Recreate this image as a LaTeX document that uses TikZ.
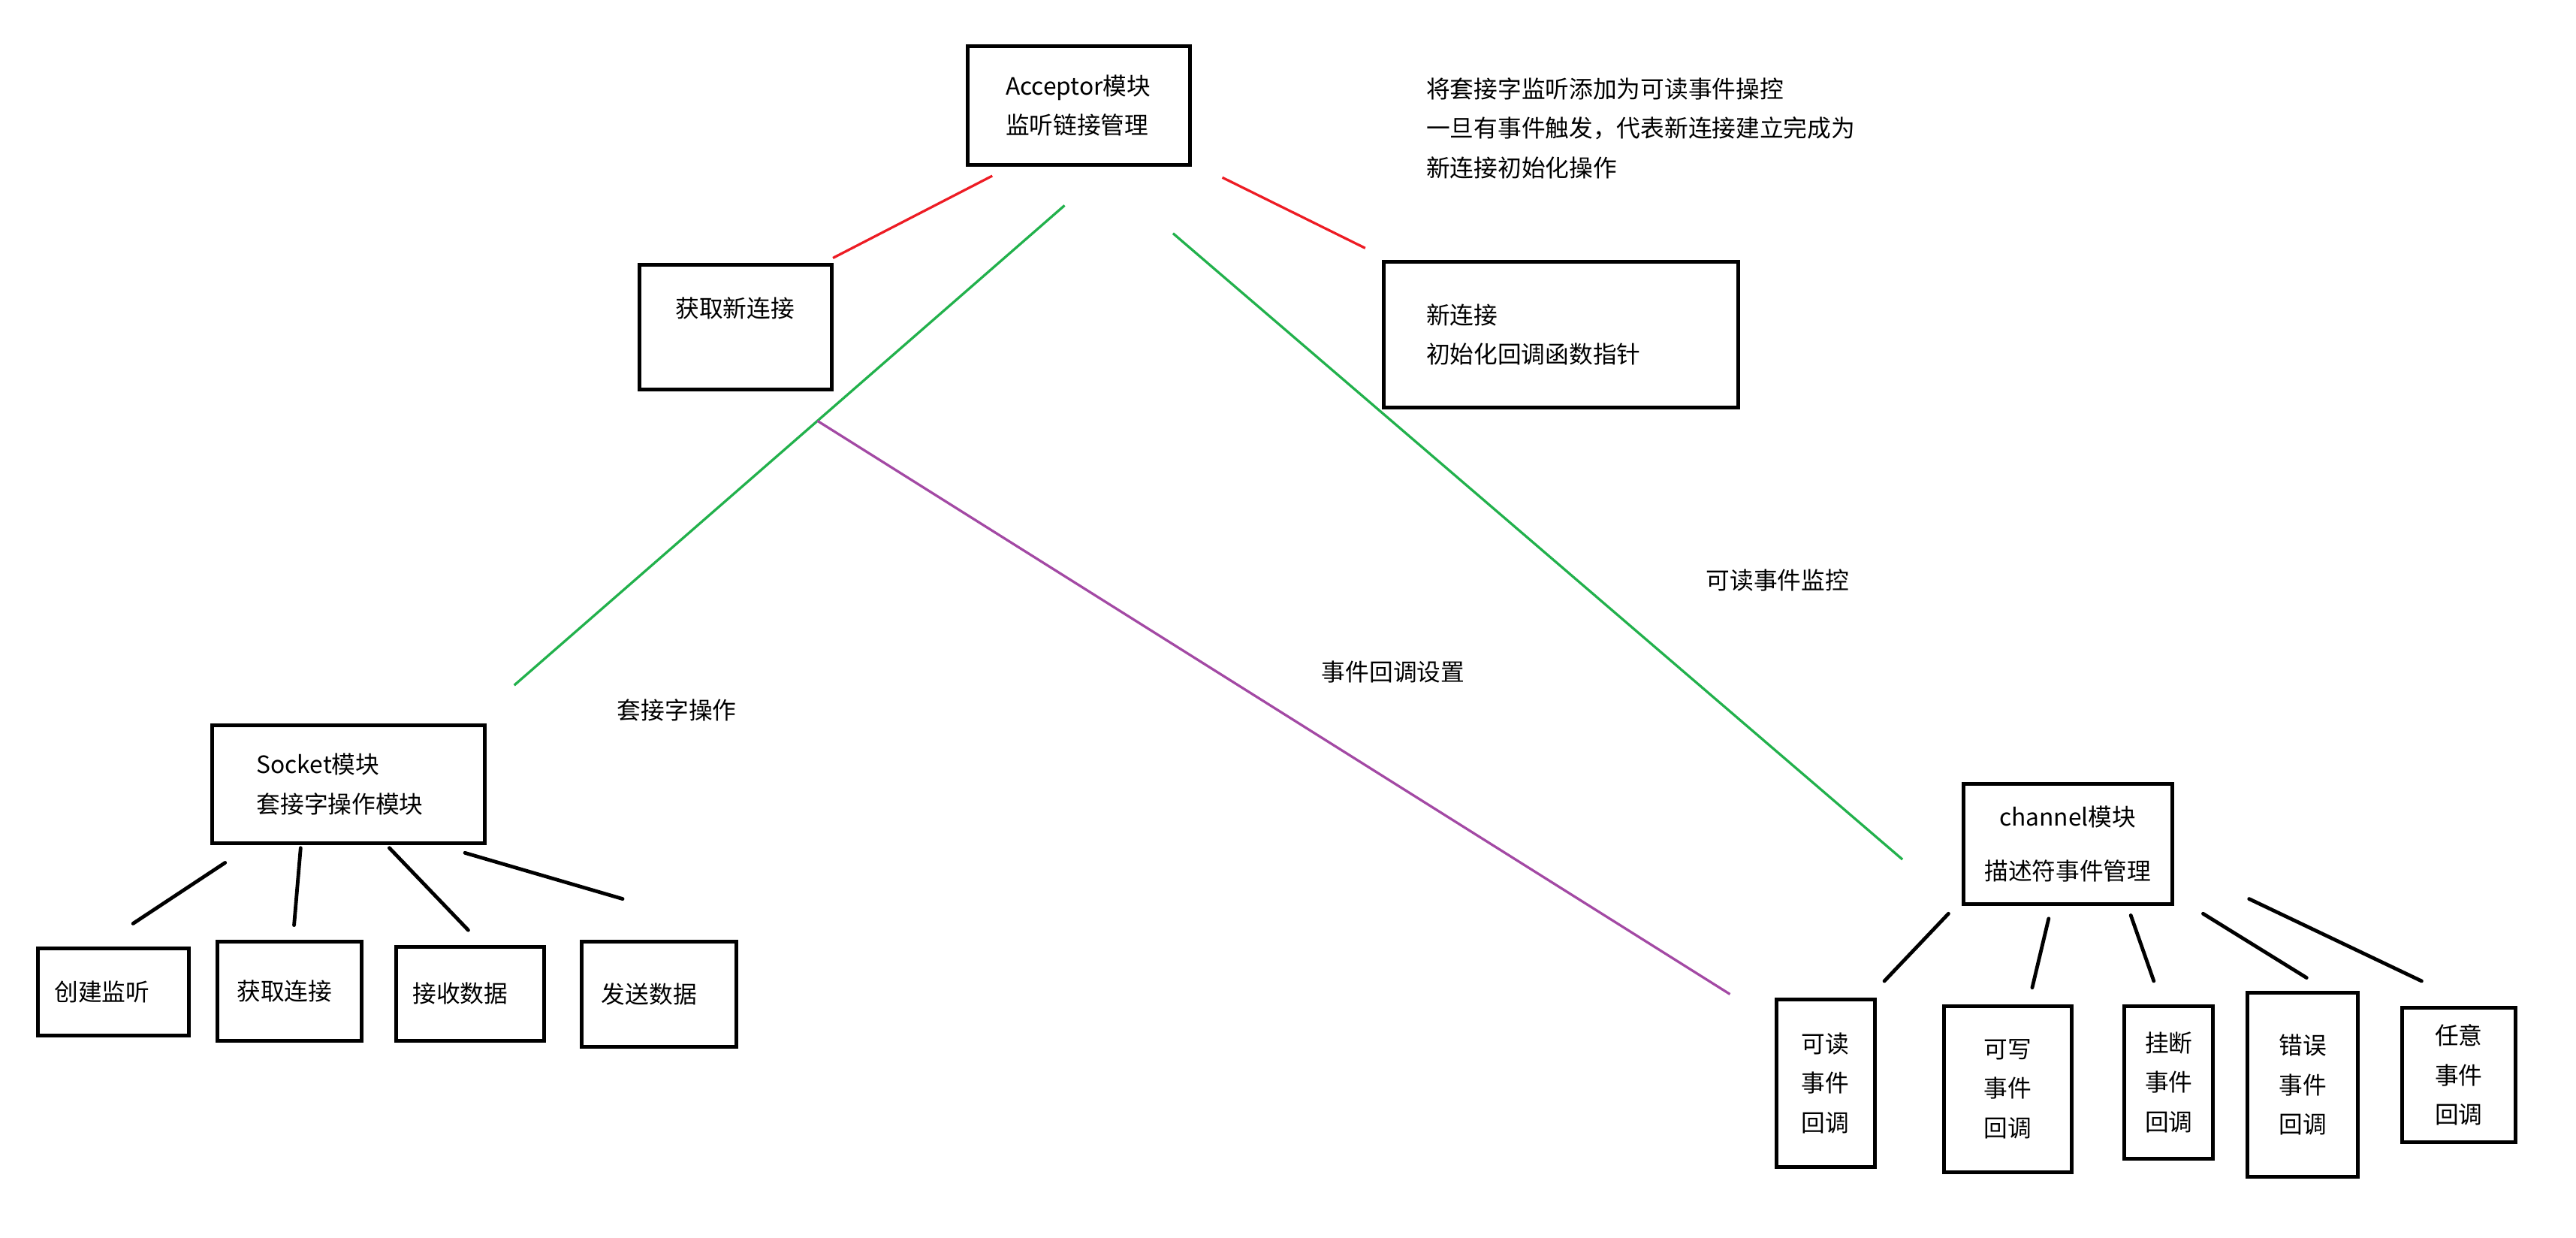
\documentclass[tikz,border=0pt]{standalone}
\usepackage{fontspec}
\setmainfont{Noto Sans CJK SC}
\definecolor{paintred}{HTML}{ED1C24}
\definecolor{paintgreen}{HTML}{22B14C}
\definecolor{paintpurple}{HTML}{A349A4}
\usetikzlibrary{calc}

\tikzset{
  txt/.style={font=\fontsize{14.5}{24}\selectfont},
  modbox/.style={txt, draw, line width=2.3pt, anchor=north west, align=left},
  leafbox/.style={txt, draw, line width=2.3pt, anchor=north west, align=center, inner sep=0pt},
  leg/.style={line width=2.2pt, line cap=round},
  link/.style={line width=1.5pt}
}

\begin{document}
\begin{tikzpicture}[x=1pt,y=-1pt]
  \useasboundingbox (0,0) rectangle (1568,753);

  % Acceptor and its two helpers
  \node[modbox, text width=89, inner xsep=23, minimum height=72] (acc) at (588,27)
    {Acceptor模块\\监听链接管理};
  \node[modbox, text width=73, inner xsep=22, minimum height=76, text depth=24] (getconn) at (388,160)
    {获取新连接};
  \node[modbox, text width=164, inner xsep=26, minimum height=89] (newconn) at (841,158)
    {新连接\\初始化回调函数指针};
  \node[txt, anchor=north west, align=left, inner sep=0pt] (note) at (868,47)
    {将套接字监听添加为可读事件操控\\一旦有事件触发，代表新连接建立完成为\\新连接初始化操作};

  % Socket side
  \node[modbox, text width=112, inner xsep=27, minimum height=72] (sock) at (128,440)
    {Socket模块\\套接字操作模块};
  \node[txt] (socklbl) at (412,432) {套接字操作};
  \foreach \n/\t/\x/\y/\w/\h/\d in {cjjt/创建监听/22/576/92/53/10, hqlj/获取连接/131/572/88/60/12,
                                    jssj/接收数据/240/575/90/57/10, fssj/发送数据/353/572/94/64/12}
    \node[leafbox, align=left, inner xsep=\d, text width=\w-2*\d, minimum height=\h] (\n) at (\x,\y) {\t};

  % Channel side
  \node[modbox, align=center, minimum width=127, minimum height=73, inner sep=0pt] (chan) at (1194,476)
    {channel模块\\[9pt]描述符事件管理};
  \node[txt] (evlbl) at (848,409) {事件回调设置};
  \node[txt] (rdlbl) at (1082,353) {可读事件监控};
  \foreach \n/\t/\x/\y/\w/\h in {kd/可读/1080/607/60/102, kx/可写/1182/611/78/101,
                                 gd/挂断/1292/611/54/93, cw/错误/1367/603/67/112, ry/任意/1461/612/69/82}
    \node[leafbox, minimum width=\w, minimum height=\h] (\n) at (\x,\y) {\t\\事件\\回调};

  % Red links from the acceptor
  \coordinate (redA1) at (604,107);
  \coordinate (redA2) at (507,157);
  \coordinate (redB1) at (744,108);
  \coordinate (redB2) at (831,151);
  \draw[link, paintred] (redA1) -- (redA2);
  \draw[link, paintred] (redB1) -- (redB2);

  % Green links down to socket and channel
  \coordinate (grnA1) at (648,125);
  \coordinate (grnA2) at (313,417);
  \coordinate (grnB1) at (714,142);
  \coordinate (grnB2) at (1158,523);
  \draw[link, paintgreen] (grnA1) -- (grnA2);
  \draw[link, paintgreen] (grnB1) -- (grnB2);

  % Purple link, starts on the green one
  \coordinate (purA1) at ($(grnA1)!0.449!(grnA2)$);
  \coordinate (purA2) at (1053,605);
  \draw[link, paintpurple] (purA1) -- (purA2);

  % Socket legs
  \foreach \i/\a/\b in {1/{137,525}/{81,562}, 2/{183,516}/{179,563},
                        3/{237,516}/{285,566}, 4/{283,519}/{379,547}} {
    \coordinate (skt\i) at (\a);
    \coordinate (skb\i) at (\b);
    \draw[leg] (skt\i) -- (skb\i);
  }

  % Channel legs
  \foreach \i/\a/\b in {1/{1186,556}/{1147,597}, 2/{1247,559}/{1237,601}, 3/{1297,557}/{1311,597},
                        4/{1341,556}/{1404,595}, 5/{1369,547}/{1474,597}} {
    \coordinate (cht\i) at (\a);
    \coordinate (chb\i) at (\b);
    \draw[leg] (cht\i) -- (chb\i);
  }
\end{tikzpicture}
\end{document}
